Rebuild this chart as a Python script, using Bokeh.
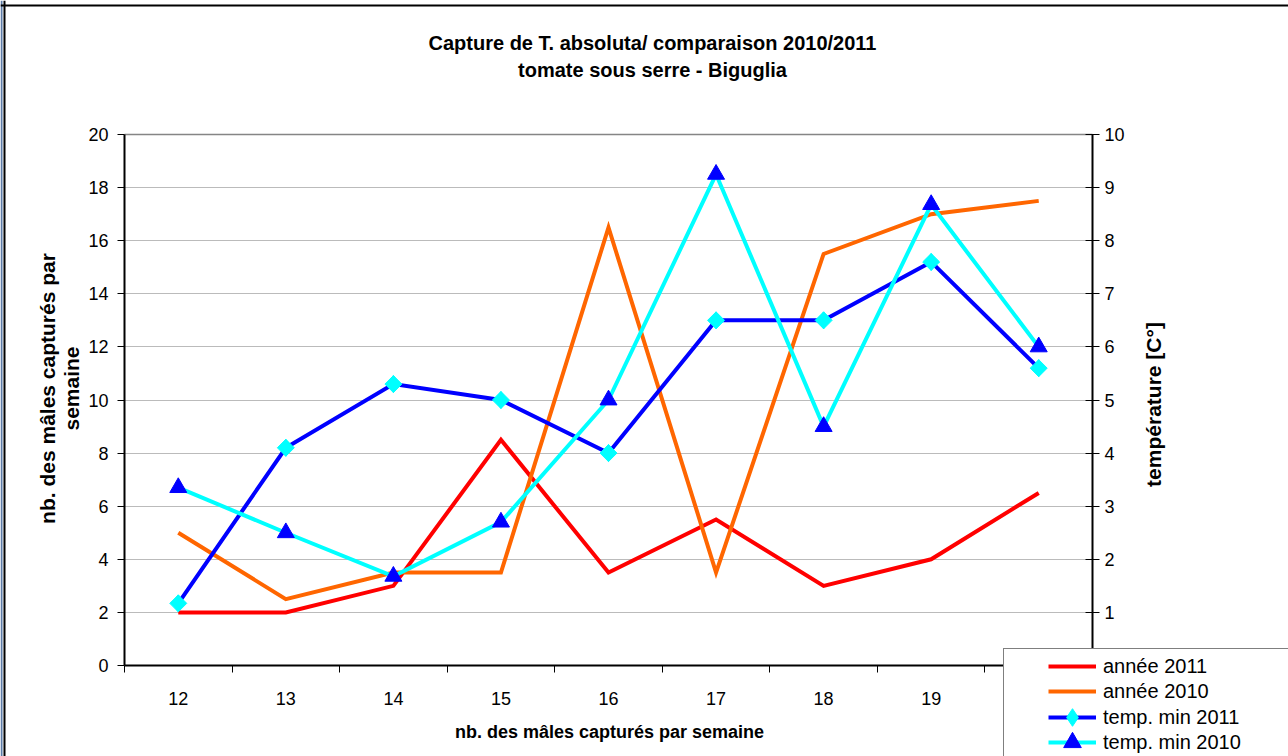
import math
from bokeh.plotting import figure
from bokeh.models import (Range1d, LinearAxis, FixedTicker, Label, Legend,
                          LegendItem, Span, Grid)
from bokeh.embed import file_html
from bokeh.resources import INLINE

# ---------------- data ----------------
weeks = [12, 13, 14, 15, 16, 17, 18, 19, 20]
week_labels = ["12", "13", "14", "15", "16", "17", "18", "19", "20"]
annee_2011 = [2.0, 2.0, 3.0, 8.5, 3.5, 5.5, 3.0, 4.0, 6.5]
annee_2010 = [5.0, 2.5, 3.5, 3.5, 16.5, 3.5, 15.5, 17.0, 17.5]
temp_min_2011 = [1.17, 4.1, 5.3, 5.0, 4.0, 6.5, 6.5, 7.6, 5.6]
temp_min_2010 = [3.35, 2.5, 1.68, 2.7, 5.0, 9.25, 4.5, 8.68, 6.0]
left_ticks = [0, 2, 4, 6, 8, 10, 12, 14, 16, 18, 20]
right_ticks = [0, 1, 2, 3, 4, 5, 6, 7, 8, 9, 10]
series_names = ["année 2011", "année 2010", "temp. min 2011", "temp. min 2010"]
title_lines = ["Capture de T. absoluta/ comparaison 2010/2011",
               "tomate sous serre - Biguglia"]
y_title_lines = ["nb. des mâles capturés par", "semaine"]
y2_title = "température [C°]"
x_title = "nb. des mâles capturés par semaine"

FONT = "Liberation Sans"

# ---------------- layout (pixels) ----------------
W, H = 1288, 756
FL, FR, FT, FB = 124, 1092, 134, 665          # plot-area edges in the page
x_lo, x_hi = weeks[0] - 0.5, weeks[-1] + 0.5
y_lo, y_hi = left_ticks[0], left_ticks[-1]
t_lo, t_hi = right_ticks[0], right_ticks[-1]
kx = (FR - FL) / (x_hi - x_lo)
ky = (FB - FT) / (y_hi - y_lo)
kt = (FB - FT) / (t_hi - t_lo)
x_start = x_lo - FL / kx
x_end = x_start + W / kx
y_start = y_lo - (H - FB) / ky
y_end = y_start + H / ky
t_start = t_lo - (H - FB) / kt
t_end = t_start + H / kt

p = figure(width=W, height=H, output_backend="svg", toolbar_location=None,
           title=None, x_axis_location=None, y_axis_location=None,
           x_range=Range1d(x_start, x_end), y_range=Range1d(y_start, y_end),
           min_border=0)
p.min_border_left = p.min_border_right = p.min_border_top = p.min_border_bottom = 0
p.outline_line_color = None
p.background_fill_color = "white"
p.border_fill_color = "white"
p.extra_y_ranges = {"temp": Range1d(t_start, t_end)}
# drop the default grids
p.center = [r for r in p.center if not isinstance(r, Grid)]

# grids
has_cb = "cross_bounds" in Grid.properties()
g = Grid(dimension=1, ticker=FixedTicker(ticks=left_ticks[1:-1]),
         grid_line_color="#777777", grid_line_dash="1 1", grid_line_width=1)
g_top = Grid(dimension=1, ticker=FixedTicker(ticks=[left_ticks[-1]]),
             grid_line_color="#858585", grid_line_width=1.5)
if has_cb:
    g.cross_bounds = (x_lo, x_hi)
    g_top.cross_bounds = (x_lo, x_hi)
    p.add_layout(g)
    p.add_layout(g_top)
else:
    p.segment(x0=[x_lo] * (len(left_ticks) - 2), x1=[x_hi] * (len(left_ticks) - 2),
              y0=left_ticks[1:-1], y1=left_ticks[1:-1],
              line_color="#777777", line_dash="1 1", line_width=1)
    p.segment(x0=[x_lo], x1=[x_hi], y0=[y_hi], y1=[y_hi],
              line_color="#858585", line_width=1.5)

# x axis
xa = LinearAxis(fixed_location=y_lo, bounds=(x_lo, x_hi))
xa.ticker = FixedTicker(ticks=weeks, minor_ticks=[w - 0.5 for w in weeks] + [x_hi])
xa.major_label_overrides = {w: l for w, l in zip(weeks, week_labels)}
xa.major_tick_out = 0
xa.major_tick_in = 0
xa.minor_tick_out = 7
xa.minor_tick_in = 0
xa.minor_tick_line_color = "black"
xa.minor_tick_line_width = 1
xa.axis_line_color = "black"
xa.axis_line_width = 2
xa.major_label_standoff = 19
xa.major_label_text_font = FONT
xa.major_label_text_font_size = "18px"
xa.major_label_text_color = "black"
p.add_layout(xa, "below")

# left axis
ya = LinearAxis(fixed_location=x_lo, bounds=(y_lo, y_hi))
ya.ticker = FixedTicker(ticks=left_ticks)
ya.major_tick_out = 7
ya.major_tick_in = 0
ya.minor_tick_out = 0
ya.minor_tick_in = 0
ya.axis_line_color = "black"
ya.axis_line_width = 2
ya.major_tick_line_color = "black"
ya.major_label_standoff = 9
ya.major_label_text_font = FONT
ya.major_label_text_font_size = "18px"
ya.major_label_text_color = "black"
p.add_layout(ya, "left")

# right axis
ra = LinearAxis(y_range_name="temp", fixed_location=x_hi, bounds=(t_lo, t_hi),
                ticker=FixedTicker(ticks=right_ticks))
ra.major_tick_out = 7
ra.major_tick_in = 7
ra.minor_tick_out = 0
ra.minor_tick_in = 0
ra.axis_line_color = "black"
ra.axis_line_width = 2
ra.major_tick_line_color = "black"
ra.major_label_standoff = 5
ra.major_label_text_font = FONT
ra.major_label_text_font_size = "18px"
ra.major_label_text_color = "black"
p.add_layout(ra, "right")

# series
r_2011 = p.line(weeks, annee_2011, line_color="#FF0000", line_width=4, line_join="miter")
r_2010 = p.line(weeks, annee_2010, line_color="#FF6600", line_width=4, line_join="miter")
t11_line = p.line(weeks, temp_min_2011, y_range_name="temp", line_color="#0000FF",
                  line_width=4, line_join="miter")
# diamond glyph (used by the legend, legend ignores rotation) under the rotated squares
t11_diam = p.scatter(weeks, temp_min_2011, y_range_name="temp", marker="diamond",
                     size=17, fill_color="#00FFFF", line_color="#00FFFF")
t11_mark = p.scatter(weeks, temp_min_2011, y_range_name="temp", marker="square",
                     angle=math.pi / 4, size=12, fill_color="#00FFFF", line_color="#00FFFF")
t10_line = p.line(weeks, temp_min_2010, y_range_name="temp", line_color="#00FFFF",
                  line_width=4, line_join="miter")
t10_mark = p.scatter(weeks, temp_min_2010, y_range_name="temp", marker="triangle",
                     size=17, fill_color="#0000FF", line_color="#0000FF")

# chart frame border (page left/top edges)
p.add_layout(Span(location=x_start + 1 / kx, dimension="height",
                  line_color="#5b7aa6", line_width=2))
p.add_layout(Span(location=x_start + 4 / kx, dimension="height",
                  line_color="black", line_width=2))
p.add_layout(Span(location=y_end - 5 / ky, dimension="width",
                  line_color="black", line_width=2))


def lab(text, px, py, size, bold=True, angle=0):
    p.add_layout(Label(x=px, y=H - py, x_units="screen", y_units="screen", text=text,
                       angle=angle, angle_units="deg",
                       text_align="center", text_baseline="middle", text_font=FONT,
                       text_font_style="bold" if bold else "normal",
                       text_font_size=size, text_color="black"))


lab(title_lines[0], 652, 42, "20px")
lab(title_lines[1], 652, 69, "20px")
lab(y_title_lines[0], 47, 388, "21px", angle=90)
lab(y_title_lines[1], 71, 388, "21px", angle=90)
lab(y2_title, 1153, 404, "21px", angle=90)
lab(x_title, 609, 731, "18px")

# legend box (background + border)
dummy = p.line([], [], line_alpha=0)
box_h = 150
leg_box = Legend(items=[LegendItem(label=" ", renderers=[dummy])],
                 location=(1003, H - 650 - box_h), glyph_width=400, glyph_height=box_h,
                 padding=0, margin=0, label_standoff=0,
                 label_text_font_size="2px",
                 border_line_color="black", border_line_width=1,
                 background_fill_color="white", background_fill_alpha=1)
p.add_layout(leg_box)

# one legend per row so that rows can be tight while glyphs stay large
row_centers = [666, 691, 717, 742]
glyph_h = 44
row_renderers = [[r_2011], [r_2010], [t11_line, t11_diam], [t10_line, t10_mark]]
for name, rends, cy in zip(series_names, row_renderers, row_centers):
    lg = Legend(items=[LegendItem(label=name, renderers=rends)],
                location=(1048, H - cy - glyph_h / 2), padding=0, margin=0, spacing=0,
                glyph_width=48, glyph_height=glyph_h, label_height=glyph_h,
                label_standoff=7, label_text_font=FONT, label_text_font_size="20px",
                label_text_color="black", border_line_color=None,
                background_fill_alpha=0)
    p.add_layout(lg)

open("out.html", "w").write(file_html(p, INLINE))
